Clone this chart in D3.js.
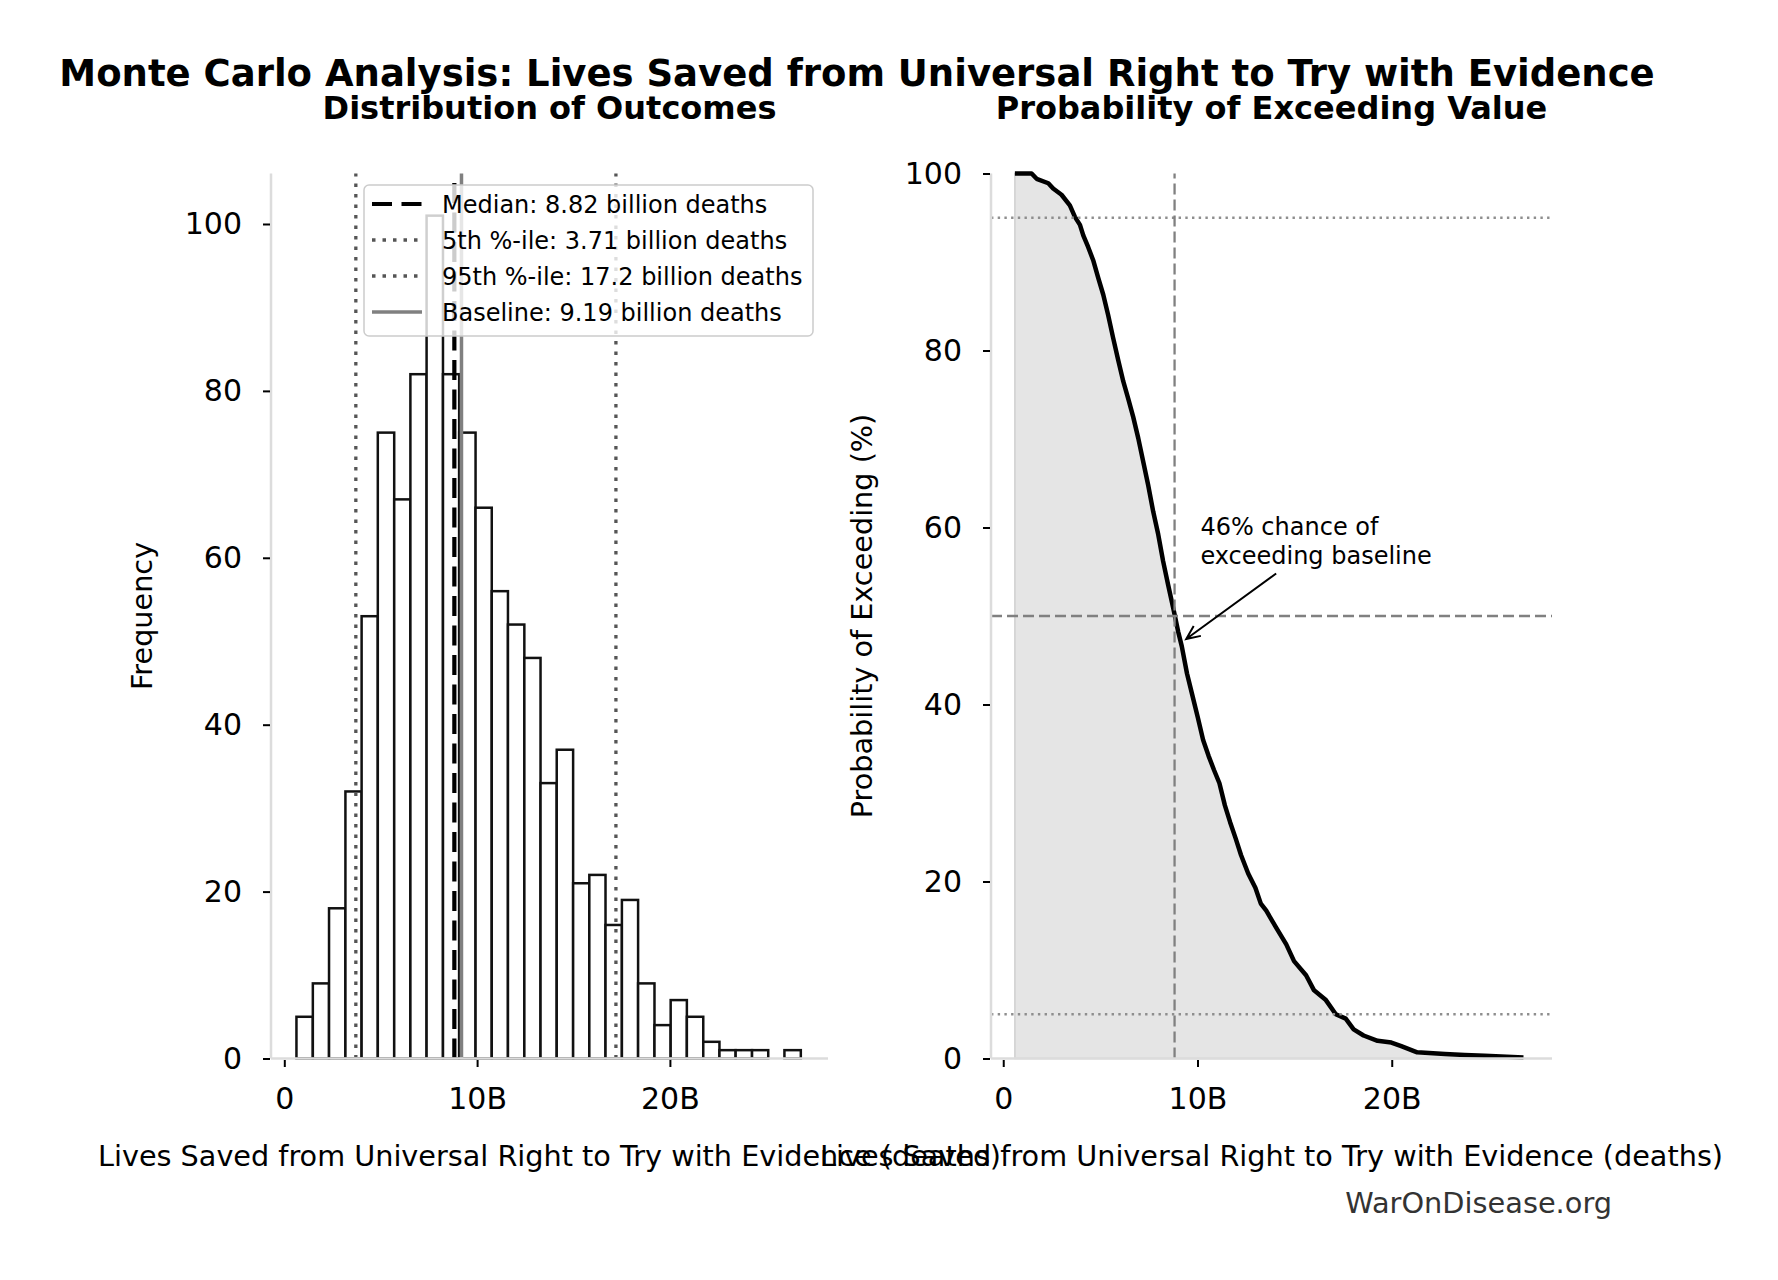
<!DOCTYPE html>
<html>
<head>
<meta charset="utf-8">
<script src="https://cdn.jsdelivr.net/npm/d3@7"></script>
<style>
body { margin: 0; background: #fff; }
text { font-family: "DejaVu Sans", sans-serif; }
</style>
</head>
<body>
<script>
// histogram of 1000 simulated outcomes (billions of deaths)
var histCounts = [5, 9, 18, 32, 53, 75, 67, 82, 101, 82, 75, 66, 56, 52, 48, 33, 37, 21, 22, 16, 19, 9, 4, 7, 5, 2, 1, 1, 1, 0, 1];
var binEdges = [0.63, 1.48, 2.32, 3.17, 4.01, 4.85, 5.70, 6.54, 7.38, 8.23, 9.07, 9.92, 10.76, 11.60, 12.45, 13.29,
                14.13, 14.98, 15.82, 16.66, 17.51, 18.35, 19.20, 20.04, 20.88, 21.73, 22.57, 23.41, 24.26, 25.10, 25.94, 26.79];

// exceedance curve
var curveX = [0.60, 1.46, 1.72, 2.32, 2.57, 3.00, 3.43, 3.69, 3.95, 4.12, 4.37, 4.63, 4.89, 5.15, 5.40, 5.66, 5.92, 6.18,
              6.43, 6.69, 6.95, 7.21, 7.46, 7.72, 7.98, 8.23, 8.49, 8.75, 9.01, 9.19, 9.46, 9.74, 10.02, 10.29, 10.57,
              10.85, 11.13, 11.41, 11.68, 11.96, 12.24, 12.61, 12.98, 13.26, 13.54, 14.05, 14.57, 14.97, 15.59, 16.00,
              16.61, 17.12, 17.63, 18.04, 18.55, 19.27, 19.98, 20.49, 21.31, 22.74, 23.76, 24.78, 26.78];
var curvePct = [100, 100, 99.4, 98.9, 98.3, 97.6, 96.4, 95.1, 94.2, 93.0, 91.7, 90.2, 88.2, 86.3, 84.0, 81.4, 78.9, 76.5,
                74.6, 72.5, 70.1, 67.4, 64.8, 61.8, 59.2, 56.2, 53.5, 50.9, 48.2, 46.6, 43.5, 41.0, 38.5, 36.0, 34.2,
                32.6, 31.1, 28.6, 26.7, 24.9, 23.0, 20.9, 19.3, 17.5, 16.7, 14.8, 12.9, 11.0, 9.4, 7.7,
                6.6, 5.0, 4.5, 3.3, 2.6, 2.0, 1.8, 1.4, 0.7, 0.5, 0.4, 0.3, 0.1];

var median = 8.82, p5 = 3.71, p95 = 17.2, baseline = 9.19;
var xTicks = [0, 10, 20];
var yTicks = [0, 20, 40, 60, 80, 100];
var legendLabels = ["Median: 8.82 billion deaths", "5th %-ile: 3.71 billion deaths",
                    "95th %-ile: 17.2 billion deaths", "Baseline: 9.19 billion deaths"];
var refPct = [95, 50, 5];
var annText = ["46% chance of", "exceeding baseline"];
var annTip = [9.42, 47.4], annTail = [14.05, 54.8], annAt = [10.15, 59.1];

var W = 1778, H = 1280;
var svg = d3.select("body").append("svg")
  .attr("width", W).attr("height", H)
  .style("display", "block");

var top_ = 173.5, bot = 1058.5;
var xL = d3.scaleLinear().domain([-0.69, 28.2]).range([271, 828]);
var yL = d3.scaleLinear().domain([0, 106.05]).range([bot, top_]);
var xR = d3.scaleLinear().domain([-0.63, 28.25]).range([991, 1552]);
var yR = d3.scaleLinear().domain([0, 100]).range([bot, top_]);

function fmtB(d){ return d === 0 ? "0" : d + "B"; }

// ---------- titles
svg.append("text").attr("x", 857).attr("y", 86).attr("text-anchor", "middle")
  .style("font-size", "37px").style("font-weight", "bold")
  .text("Monte Carlo Analysis: Lives Saved from Universal Right to Try with Evidence");
svg.append("text").attr("x", 549.5).attr("y", 119).attr("text-anchor", "middle")
  .style("font-size", "32px").style("font-weight", "bold")
  .text("Distribution of Outcomes");
svg.append("text").attr("x", 1271.5).attr("y", 119).attr("text-anchor", "middle")
  .style("font-size", "32px").style("font-weight", "bold")
  .text("Probability of Exceeding Value");

// ---------- left panel: histogram
var gL = svg.append("g");
histCounts.forEach(function(c, i){
  if (c <= 0) return;
  gL.append("rect")
    .attr("x", xL(binEdges[i]))
    .attr("width", xL(binEdges[i + 1]) - xL(binEdges[i]))
    .attr("y", yL(c))
    .attr("height", yL(0) - yL(c))
    .style("fill", "#fff").style("stroke", "#111").style("stroke-width", 2.5);
});

var vlines = [
  {v: median, color: "#000", w: 4.2, dash: "20,9.5"},
  {v: p5, color: "#555", w: 3.3, dash: "3.5,7"},
  {v: p95, color: "#555", w: 3.3, dash: "3.5,7"},
  {v: baseline, color: "#808080", w: 3.5, dash: null}
];
gL.selectAll("line.v").data(vlines).enter().append("line")
  .attr("x1", function(d){ return xL(d.v); }).attr("x2", function(d){ return xL(d.v); })
  .attr("y1", yL.range()[0]).attr("y2", yL.range()[1])
  .style("stroke", function(d){ return d.color; })
  .style("stroke-width", function(d){ return d.w; })
  .style("stroke-dasharray", function(d){ return d.dash; });

// ---------- right panel: exceedance curve
var gR = svg.append("g");
var pts = curveX.map(function(x, i){ return [x, curvePct[i]]; });
gR.append("path").datum(pts)
  .attr("d", d3.area().x(function(d){ return xR(d[0]); }).y0(yR(0)).y1(function(d){ return yR(d[1]); }))
  .style("fill", "#e5e5e5").style("stroke", "#cfcfcf").style("stroke-width", 1.5);
gR.append("path").datum(pts)
  .attr("d", d3.line().x(function(d){ return xR(d[0]); }).y(function(d){ return yR(d[1]); }))
  .style("fill", "none").style("stroke", "#000").style("stroke-width", 4.5)
  .style("stroke-linejoin", "round");

gR.selectAll("line.h").data(refPct).enter().append("line")
  .attr("x1", xR.range()[0]).attr("x2", xR.range()[1])
  .attr("y1", function(d){ return yR(d); }).attr("y2", function(d){ return yR(d); })
  .style("stroke", function(d){ return d === 50 ? "#808080" : "#8e8e8e"; })
  .style("stroke-width", 2.3)
  .style("stroke-dasharray", function(d){ return d === 50 ? "11,5" : "2.4,4.3"; });
gR.append("line")
  .attr("x1", xR(median)).attr("x2", xR(median))
  .attr("y1", yR(0)).attr("y2", yR(100))
  .style("stroke", "#808080").style("stroke-width", 2.3).style("stroke-dasharray", "11,5");

// annotation
var tx = xR(annTip[0]), ty = yR(annTip[1]), sx = xR(annTail[0]), sy = yR(annTail[1]);
var ang = Math.atan2(sy - ty, sx - tx);
gR.append("path")
  .attr("d", "M" + sx + "," + sy + "L" + tx + "," + ty +
    "M" + (tx + 15 * Math.cos(ang + 0.42)) + "," + (ty + 15 * Math.sin(ang + 0.42)) +
    "L" + tx + "," + ty +
    "L" + (tx + 15 * Math.cos(ang - 0.42)) + "," + (ty + 15 * Math.sin(ang - 0.42)))
  .style("fill", "none").style("stroke", "#000").style("stroke-width", 2);
var ann = gR.append("text").attr("x", xR(annAt[0])).attr("y", yR(annAt[1]))
  .style("font-size", "24px");
ann.selectAll("tspan").data(annText).enter().append("tspan")
  .attr("x", xR(annAt[0])).attr("dy", function(d, i){ return i === 0 ? 0 : 29; })
  .text(function(d){ return d; });

// ---------- axes & spines
function styleAxis(g){
  g.select(".domain").remove();
  g.selectAll(".tick line").style("stroke", "#000").style("stroke-width", 2);
  g.selectAll(".tick text").style("font-family", "DejaVu Sans").style("font-size", "30px").style("fill", "#000");
}
[[xL, yL], [xR, yR]].forEach(function(s){
  var x = s[0], y = s[1];
  svg.append("line").attr("x1", x.range()[0]).attr("x2", x.range()[0])
    .attr("y1", y.range()[0]).attr("y2", y.range()[1])
    .style("stroke", "#dcdcdc").style("stroke-width", 2.5);
  svg.append("line").attr("x1", x.range()[0]).attr("x2", x.range()[1])
    .attr("y1", y.range()[0]).attr("y2", y.range()[0])
    .style("stroke", "#dcdcdc").style("stroke-width", 2.5);
  svg.append("g").attr("transform", "translate(" + (x.range()[0] - 1) + ",0)")
    .call(d3.axisLeft(y).tickValues(yTicks).tickSize(7).tickPadding(21).tickFormat(d3.format("d")))
    .call(styleAxis);
  svg.append("g").attr("transform", "translate(0," + (y.range()[0] + 1.5) + ")")
    .call(d3.axisBottom(x).tickValues(xTicks).tickSize(7).tickPadding(21).tickFormat(fmtB))
    .call(styleAxis);
});

// axis labels
svg.append("text").attr("transform", "translate(152,616) rotate(-90)").attr("text-anchor", "middle")
  .style("font-size", "28.7px").text("Frequency");
svg.append("text").attr("transform", "translate(872,616) rotate(-90)").attr("text-anchor", "middle")
  .style("font-size", "28.7px").text("Probability of Exceeding (%)");
svg.append("text").attr("x", (xL.range()[0] + xL.range()[1]) / 2).attr("y", 1166).attr("text-anchor", "middle")
  .style("font-size", "28.7px").text("Lives Saved from Universal Right to Try with Evidence (deaths)");
svg.append("text").attr("x", (xR.range()[0] + xR.range()[1]) / 2).attr("y", 1166).attr("text-anchor", "middle")
  .style("font-size", "28.7px").text("Lives Saved from Universal Right to Try with Evidence (deaths)");

// ---------- legend
var lg = svg.append("g");
lg.append("rect").attr("x", 364).attr("y", 185).attr("width", 449).attr("height", 151)
  .attr("rx", 5).style("fill", "#fff").style("fill-opacity", 0.8)
  .style("stroke", "#cccccc").style("stroke-width", 1.5);
legendLabels.forEach(function(t, i){
  var cy = 204 + i * 36;
  var st = vlines[i];
  lg.append("line").attr("x1", 372).attr("x2", 422).attr("y1", cy).attr("y2", cy)
    .style("stroke", st.color).style("stroke-width", st.w)
    .style("stroke-dasharray", st.dash);
  lg.append("text").attr("x", 442).attr("y", cy + 8.7).style("font-size", "24px").text(t);
});

// watermark
svg.append("text").attr("x", 1612).attr("y", 1213).attr("text-anchor", "end")
  .style("font-size", "28.8px").style("fill", "#333").text("WarOnDisease.org");
</script>
</body>
</html>
